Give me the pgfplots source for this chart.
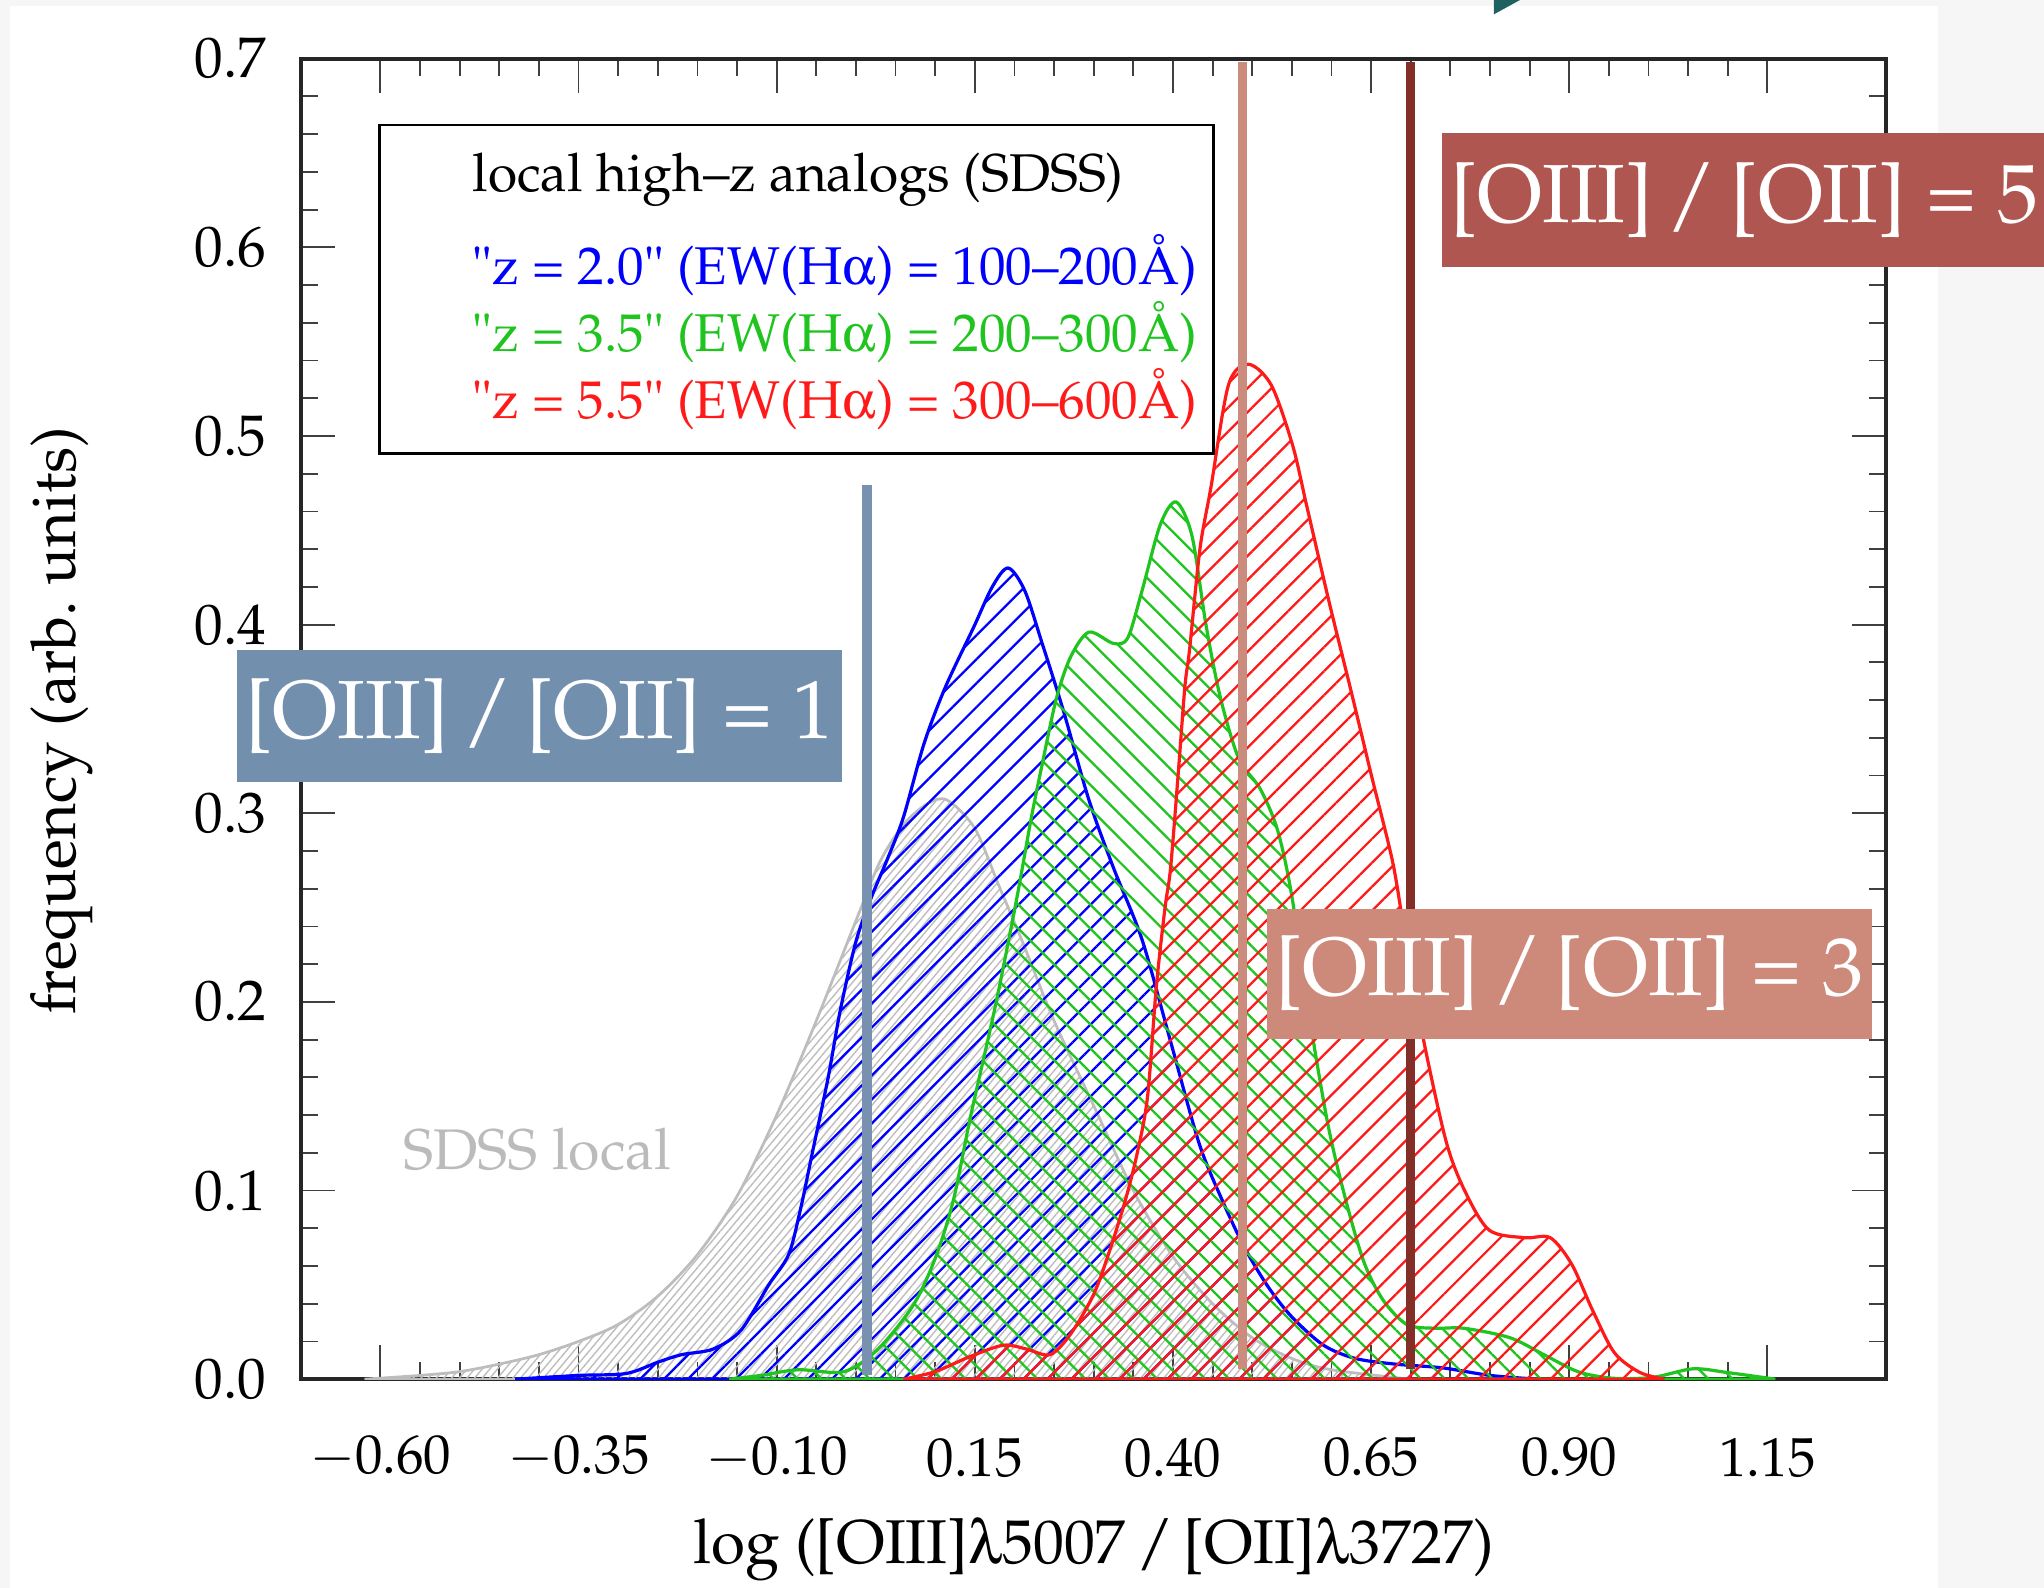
\documentclass[border=0pt]{standalone}
\usepackage[T1]{fontenc}
\usepackage{mathpazo}
\usepackage[Symbol]{upgreek}
\usepackage{pgfplots}
\pgfplotsset{compat=1.18}
\usetikzlibrary{patterns.meta}
\definecolor{bggray}{HTML}{F6F6F6}
\definecolor{tealtri}{HTML}{1F6060}
\definecolor{boxblue}{HTML}{738FAE}
\definecolor{boxsalmon}{HTML}{CD897A}
\definecolor{boxred}{HTML}{B05650}
\definecolor{vblue}{HTML}{7891B0}
\definecolor{vsalmon}{HTML}{CC8C7D}
\definecolor{vbrown}{HTML}{842E28}
\definecolor{cblue}{HTML}{0000FF}
\definecolor{cgreen}{HTML}{1FC41F}
\definecolor{cred}{HTML}{FF1A1A}
\definecolor{cgray}{HTML}{BDBDBD}
\definecolor{sdss}{HTML}{BBBBBB}

\pgfplotstableread{
x y
-0.62 0
-0.55 0.002
-0.50 0.004
-0.45 0.008
-0.40 0.013
-0.35 0.020
-0.30 0.029
-0.25 0.044
-0.20 0.066
-0.15 0.097
-0.10 0.140
-0.05 0.190
0.00 0.243
0.03 0.274
0.06 0.294
0.09 0.305
0.115 0.307
0.15 0.292
0.18 0.262
0.21 0.232
0.25 0.190
0.30 0.145
0.35 0.100
0.40 0.065
0.45 0.040
0.50 0.022
0.55 0.011
0.60 0.005
0.70 0.000
}\graydata

\pgfplotstableread{
x y
-0.43 0
-0.35 0.002
-0.29 0.003
-0.25 0.009
-0.22 0.013
-0.18 0.016
-0.145 0.026
-0.11 0.050
-0.085 0.066
-0.07 0.090
-0.055 0.120
-0.035 0.160
-0.02 0.195
0.00 0.232
0.02 0.256
0.04 0.276
0.06 0.298
0.086 0.337
0.113 0.367
0.149 0.399
0.172 0.420
0.192 0.430
0.213 0.418
0.235 0.390
0.262 0.354
0.294 0.307
0.325 0.271
0.361 0.233
0.397 0.179
0.433 0.125
0.462 0.095
0.49 0.070
0.52 0.049
0.55 0.033
0.59 0.018
0.63 0.011
0.68 0.008
0.74 0.006
0.80 0.002
0.86 0.000
}\bluedata

\pgfplotstableread{
x y
-0.16 0
-0.12 0.002
-0.073 0.005
-0.015 0.004
0.028 0.016
0.072 0.039
0.10 0.064
0.123 0.095
0.145 0.140
0.176 0.198
0.203 0.255
0.221 0.297
0.235 0.326
0.253 0.361
0.271 0.383
0.294 0.396
0.325 0.390
0.343 0.393
0.361 0.418
0.384 0.453
0.404 0.465
0.424 0.447
0.442 0.399
0.46 0.361
0.483 0.329
0.51 0.313
0.532 0.291
0.55 0.256
0.573 0.190
0.596 0.134
0.618 0.095
0.641 0.062
0.665 0.042
0.695 0.029
0.73 0.027
0.767 0.027
0.825 0.022
0.868 0.013
0.911 0.004
0.955 0.0005
1.006 0.001
1.056 0.0055
1.10 0.0035
1.16 0
}\greendata

\pgfplotstableread{
x y
0.06 0
0.10 0.004
0.144 0.012
0.186 0.018
0.215 0.016
0.245 0.013
0.271 0.024
0.30 0.045
0.32 0.068
0.34 0.095
0.355 0.120
0.368 0.150
0.379 0.208
0.39 0.250
0.397 0.271
0.407 0.323
0.415 0.367
0.421 0.387
0.434 0.440
0.448 0.473
0.470 0.527
0.495 0.538
0.524 0.527
0.551 0.495
0.569 0.4625
0.597 0.412
0.624 0.366
0.651 0.319
0.678 0.2725
0.696 0.226
0.718 0.176
0.745 0.1255
0.768 0.100
0.799 0.079
0.844 0.075
0.876 0.075
0.903 0.061
0.93 0.036
0.957 0.014
0.989 0.0036
1.02 0
}\reddata

\begin{document}
\begin{tikzpicture}
\fill[bggray] (0,0) rectangle (156.8mm,121.8mm);
\fill[white] (0.8mm,0) rectangle (148.7mm,121.3mm);
\fill[tealtri] (114.6mm,121.8mm) -- (116.6mm,121.8mm) -- (114.6mm,120.7mm) -- cycle;

\begin{axis}[
  scale only axis, width=121.6mm, height=101.3mm,
  at={(23.1mm,16.0mm)}, anchor=south west,
  xmin=-0.7, xmax=1.3, ymin=0, ymax=0.7,
  xtick={-0.6,-0.35,-0.1,0.15,0.4,0.65,0.9,1.15},
  ytick={0,0.1,0.2,0.3,0.4,0.5,0.6,0.7},
  minor x tick num=4, minor y tick num=4,
  tick align=inside, xtick pos=both, ytick pos=both,
  xticklabel pos=lower, yticklabel pos=left,
  major tick length=2.6mm, minor tick length=1.3mm,
  every tick/.style={black!75, line width=0.4pt},
  axis line style={line width=0.9pt, black!85},
  x tick label style={/pgf/number format/.cd, fixed, fixed zerofill, precision=2, /tikz/.cd,
    anchor=center, inner sep=0pt, yshift=-6mm, font=\fontsize{12}{14}\selectfont},
  y tick label style={/pgf/number format/.cd, fixed, fixed zerofill, precision=1, /tikz/.cd,
    anchor=east, inner sep=0pt, xshift=-2.6mm, font=\fontsize{12.5}{14}\selectfont},
]
\addplot[draw=cgray, line width=0.6pt, smooth,
  pattern={Lines[angle=50,distance=0.45mm,line width=0.3pt]}, pattern color=cgray]
  table[x=x,y=y] {\graydata} \closedcycle;
\addplot[draw=cblue, line width=0.7pt, smooth,
  pattern={Lines[angle=45,distance=1.3mm,line width=0.5pt]}, pattern color=cblue]
  table[x=x,y=y] {\bluedata} \closedcycle;
\addplot[draw=cgreen, line width=0.7pt, smooth,
  pattern={Lines[angle=-45,distance=1.3mm,line width=0.5pt]}, pattern color=cgreen]
  table[x=x,y=y] {\greendata} \closedcycle;
\addplot[draw=cred, line width=0.7pt, smooth,
  pattern={Lines[angle=45,distance=1.3mm,line width=0.5pt]}, pattern color=cred]
  table[x=x,y=y] {\reddata} \closedcycle;
\addplot[draw=vblue, line width=2.0pt] coordinates {(0.014,0.002) (0.014,0.474)};
\addplot[draw=vsalmon, line width=1.9pt] coordinates {(0.4875,0.0055) (0.4875,0.698)};
\addplot[draw=vbrown, line width=1.9pt] coordinates {(0.70,0.0055) (0.70,0.698)};
\end{axis}

% legend box
\draw[fill=white, line width=0.6pt] (29.1mm,87.0mm) rectangle (93.1mm,112.2mm);
\node[anchor=base west, inner sep=0pt, font=\fontsize{11.6}{13}\selectfont] at (36.2mm,107.1mm)
  {local high\textendash z analogs (SDSS)};
\node[anchor=base west, inner sep=0pt, text=cblue, font=\fontsize{11.6}{13}\selectfont] at (36.2mm,100.0mm)
  {"z = 2.0" (EW(H$\upalpha$) = 100\textendash 200\AA)};
\node[anchor=base west, inner sep=0pt, text=cgreen, font=\fontsize{11.6}{13}\selectfont] at (36.2mm,94.8mm)
  {"z = 3.5" (EW(H$\upalpha$) = 200\textendash 300\AA)};
\node[anchor=base west, inner sep=0pt, text=cred, font=\fontsize{11.6}{13}\selectfont] at (36.2mm,89.7mm)
  {"z = 5.5" (EW(H$\upalpha$) = 300\textendash 600\AA)};

% SDSS local label
\node[text=sdss, font=\fontsize{12.5}{14}\selectfont] at (41.2mm,33.6mm) {SDSS local};

% axis labels
\node[font=\fontsize{13.5}{16}\selectfont] at (83.9mm,2.9mm) {log ([OIII]$\uplambda$5007\,/\,[OII]$\uplambda$3727)};
\node[rotate=90, font=\fontsize{13.5}{16}\selectfont] at (4.75mm,66.5mm) {frequency (arb.\ units)};

% ratio boxes
\node[fill=boxblue, text=white, minimum width=46.4mm, minimum height=10.1mm, inner sep=0pt,
  font=\fontsize{18}{20}\selectfont] at (41.4mm,66.85mm) {[OIII]\,/\,[OII] = 1};
\node[fill=boxsalmon, text=white, minimum width=46.4mm, minimum height=10.0mm, inner sep=0pt,
  font=\fontsize{18}{20}\selectfont] at (120.4mm,47.1mm) {[OIII]\,/\,[OII] = 3};
\node[fill=boxred, text=white, minimum width=46.4mm, minimum height=10.3mm, inner sep=0pt,
  font=\fontsize{18}{20}\selectfont] at (133.8mm,106.45mm) {[OIII]\,/\,[OII] = 5};

\pgfresetboundingbox
\useasboundingbox (0,0) rectangle (156.8mm,121.8mm);
\end{tikzpicture}
\end{document}
